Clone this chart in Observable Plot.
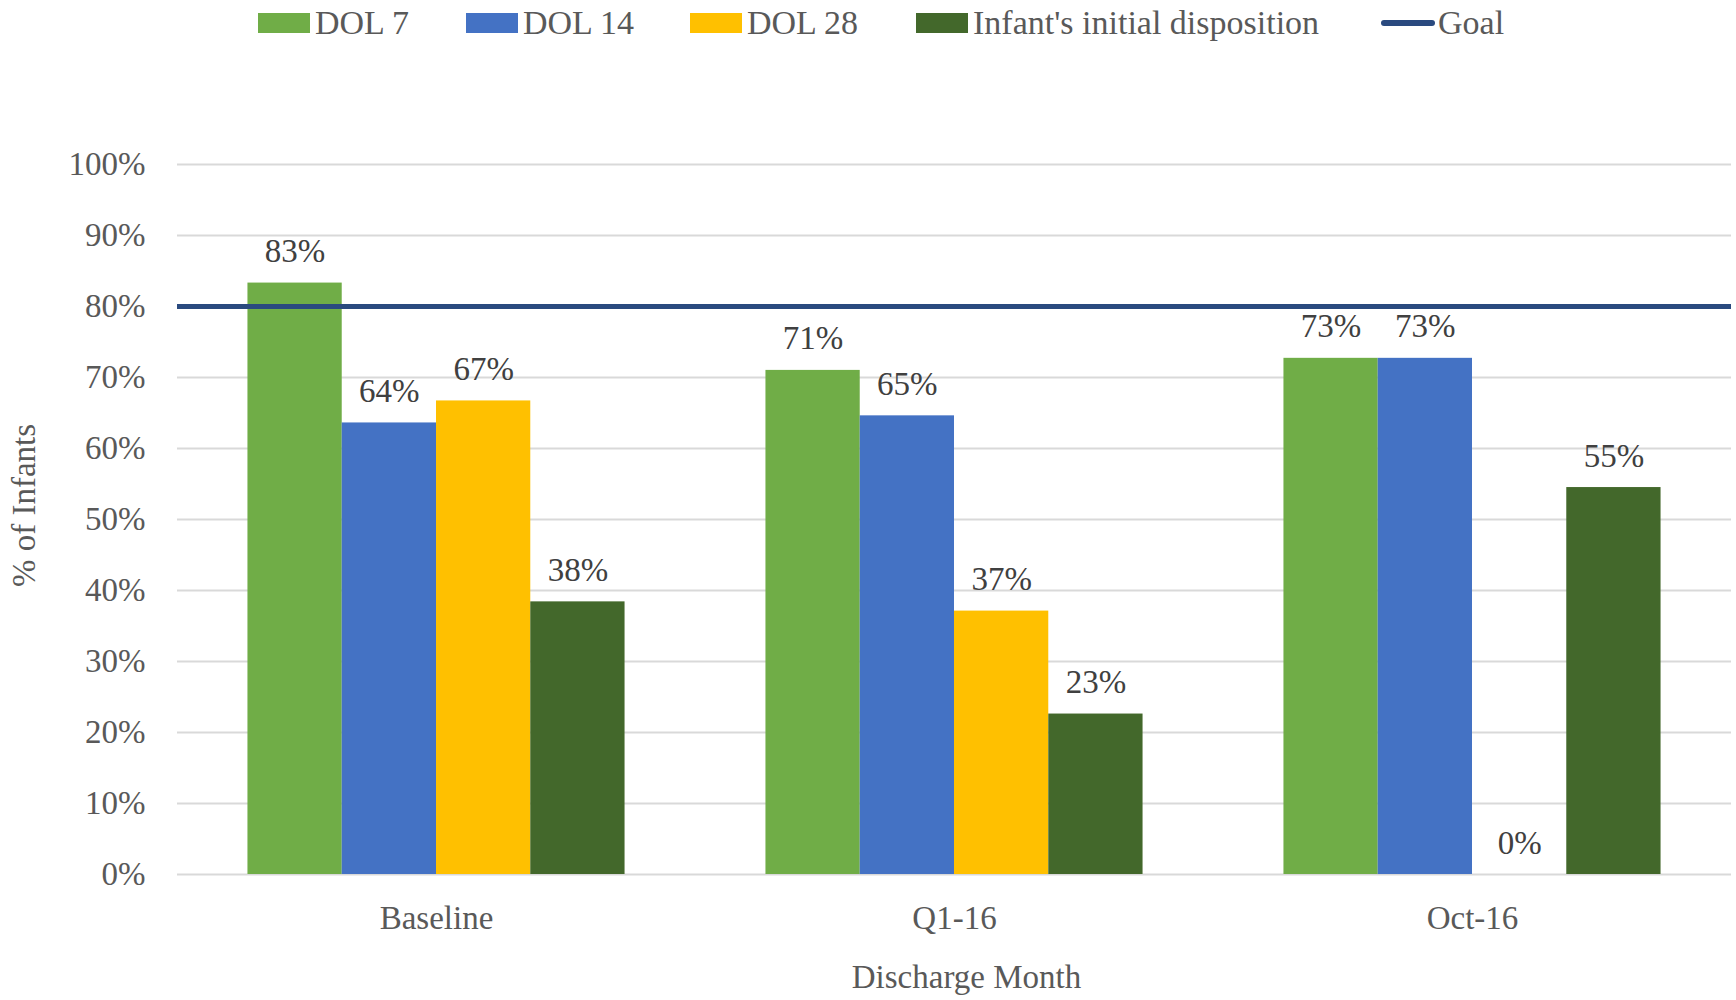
<!DOCTYPE html>
<html>
<head>
<meta charset="utf-8">
<script src="https://cdn.jsdelivr.net/npm/d3@7"></script>
<script src="https://cdn.jsdelivr.net/npm/@observablehq/plot@0.6"></script>
<style>
  html, body { margin: 0; padding: 0; background: #fff; }
  body { width: 1736px; height: 1000px; overflow: hidden; font-family: "Liberation Serif", serif; }
  #legend { height: 46px; display: flex; align-items: center; padding-left: 258px; font-size: 34px; color: #595959; box-sizing: border-box; }
  .item { display: flex; align-items: center; white-space: nowrap; }
  .item:nth-child(1) { width: 208px; }
  .item:nth-child(2) { width: 224px; }
  .item:nth-child(3) { width: 226px; }
  .item:nth-child(4) { width: 465px; }
  .sw { width: 52px; height: 20px; margin-right: 5px; flex: none; }
  .ln { width: 54px; height: 6px; border-radius: 3px; margin-right: 3px; flex: none; }
  #chart svg text { font-family: "Liberation Serif", serif; }
</style>
</head>
<body>
<div id="legend"></div>
<div id="chart"></div>
<script>
const categories = ["Baseline", "Q1-16", "Oct-16"];
const seriesNames = ["DOL 7", "DOL 14", "DOL 28", "Infant's initial disposition"];
const seriesColors = ["#70AD47", "#4472C4", "#FFC000", "#43682B"];
const dol7 = [0.833, 0.710, 0.727];
const dol14 = [0.636, 0.646, 0.727];
const dol28 = [0.667, 0.371, 0.0];
const disposition = [0.384, 0.226, 0.545];
const goal = 0.8;
const goalName = "Goal";
const goalColor = "#2A4A7F";
const yTicks = [0, 0.1, 0.2, 0.3, 0.4, 0.5, 0.6, 0.7, 0.8, 0.9, 1.0];
const xTitle = "Discharge Month";
const yTitle = "% of Infants";

// Layout of clustered bars inside each category slot (fractions of one slot)
const groupPad = 0.136;
const barW = (1 - 2 * groupPad) / seriesNames.length;

const seriesValues = [dol7, dol14, dol28, disposition];
const data = [];
categories.forEach((c, i) => {
  seriesNames.forEach((s, j) => {
    data.push({category: c, ci: i, series: s, si: j, value: seriesValues[j][i]});
  });
});

// Legend
const legend = document.getElementById("legend");
seriesNames.forEach((s, j) => {
  const it = document.createElement("div");
  it.className = "item";
  const sw = document.createElement("div");
  sw.className = "sw";
  sw.style.background = seriesColors[j];
  const t = document.createElement("span");
  t.textContent = s;
  it.appendChild(sw); it.appendChild(t);
  legend.appendChild(it);
});
{
  const it = document.createElement("div");
  it.className = "item";
  const ln = document.createElement("div");
  ln.className = "ln";
  ln.style.background = goalColor;
  const t = document.createElement("span");
  t.textContent = goalName;
  it.appendChild(ln); it.appendChild(t);
  legend.appendChild(it);
}

const fmt = d3.format(".0%");
const FS = 33;
const FF = "Liberation Serif";
const catTicks = categories.map((c, i) => i + 0.5);

const chart = Plot.plot({
  width: 1736,
  height: 954,
  marginLeft: 177,
  marginRight: 5,
  marginTop: 118,
  marginBottom: 126,
  style: {fontFamily: "'Liberation Serif', serif", fontSize: FS + "px", color: "#595959", background: "#fff"},
  x: {domain: [0, categories.length], axis: null},
  y: {domain: [0, 1], axis: null},
  color: {domain: seriesNames, range: seriesColors},
  marks: [
    Plot.ruleY(yTicks, {stroke: "#D9D9D9", strokeWidth: 2}),
    Plot.axisY(yTicks, {tickSize: 0, tickPadding: 32, tickFormat: fmt, fill: "#595959", fontSize: FS, fontFamily: FF, label: null}),
    Plot.text([yTitle], {frameAnchor: "left", dx: -153, dy: -14, rotate: -90, lineAnchor: "middle", textAnchor: "middle", fill: "#595959", fontSize: FS, fontFamily: FF}),
    Plot.axisX(catTicks, {tickSize: 0, tickPadding: 31, tickFormat: v => categories[Math.floor(v)], fill: "#595959", fontSize: FS, fontFamily: FF, label: null}),
    Plot.text([xTitle], {frameAnchor: "bottom", dx: 12, dy: 113, lineAnchor: "bottom", fill: "#595959", fontSize: FS, fontFamily: FF}),
    Plot.rectY(data, {x1: d => d.ci + groupPad + d.si * barW, x2: d => d.ci + groupPad + (d.si + 1) * barW, y: "value", fill: "series"}),
    Plot.text(data, {x: d => d.ci + groupPad + (d.si + 0.5) * barW, y: "value", text: d => fmt(d.value), dy: -21, lineAnchor: "bottom", fill: "#404040", fontSize: FS, fontFamily: FF}),
    Plot.ruleY([goal], {stroke: goalColor, strokeWidth: 5})
  ]
});
document.getElementById("chart").appendChild(chart);
</script>
</body>
</html>
